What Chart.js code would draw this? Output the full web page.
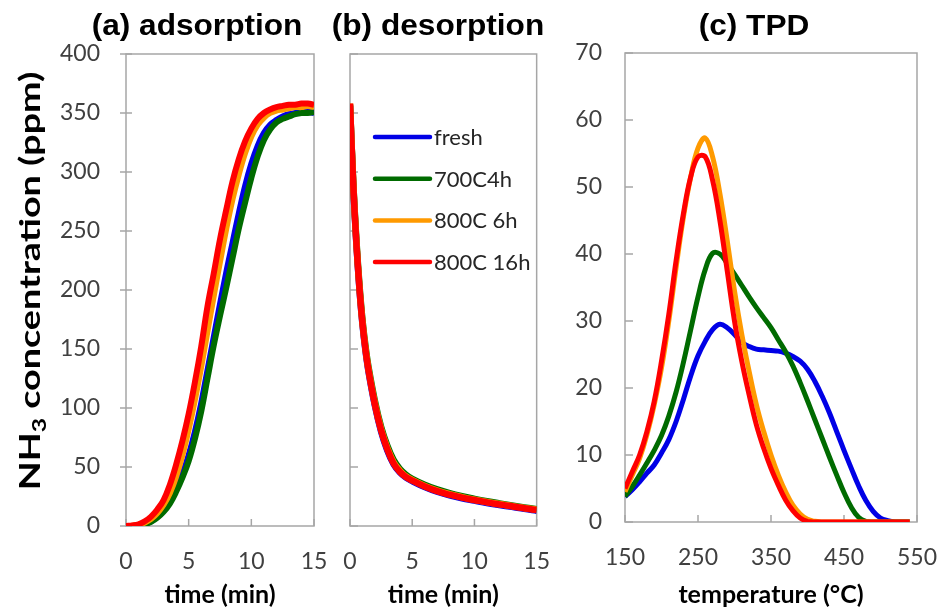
<!DOCTYPE html>
<html>
<head>
<meta charset="utf-8">
<script src="https://cdn.jsdelivr.net/npm/chart.js@4"></script>
<style>
    html, body { margin: 0; padding: 0; background: #fff; }
    #wrap { position: relative; width: 941px; height: 607px; overflow: hidden; }
    #wrap canvas { position: absolute; top: 0; }
</style>
</head>
<body>
<div id="wrap">
    <canvas id="chart-ads" width="330" height="607" style="left:0"></canvas>
    <canvas id="chart-des" width="220" height="607" style="left:330px"></canvas>
    <canvas id="chart-tpd" width="391" height="607" style="left:550px"></canvas>
</div>
<script>
// NH3 adsorption / desorption / TPD

const SERIES = ['fresh', '700C4h', '800C 6h', '800C 16h'];

// (a) adsorption, time in min
const TIME_ADS = [0, 0.5, 1, 1.5, 2, 2.5, 3, 3.5, 4, 4.5, 5, 5.5, 6, 6.5, 7, 7.5,
    8, 8.5, 9, 9.5, 10, 10.5, 11, 11.5, 12, 12.5, 13, 13.5, 14, 14.5, 15];
const ADS_FRESH = [0, 0, 0.5, 2, 4, 8, 13, 21, 31, 44, 60, 80, 104, 132, 160, 188,
    215, 240, 265, 288, 307, 322, 333, 340, 344, 347, 349, 350, 351, 351, 350];
const ADS_700C4H = [0, 0, 0.5, 1.5, 3.5, 7, 12, 19, 29, 41, 55, 74, 97, 125, 153, 178,
    202, 227, 252, 274, 295, 313, 327, 336, 342, 345, 347, 349, 350, 350, 351];
const ADS_800C6H = [0, 0.3, 1, 3, 6, 11, 18, 28, 42, 60, 82, 107, 135, 165, 195, 224,
    252, 277, 298, 316, 330, 340, 346, 350, 352, 353, 354, 355, 355, 356, 355];
const ADS_800C16H = [0, 0.5, 1.5, 4, 8, 14, 22, 35, 52, 72, 95, 122, 152, 186, 214, 243,
    268, 292, 311, 326, 337, 345, 350, 353, 355, 356, 357, 357, 358, 358, 357];

// (b) desorption, time in min
const TIME_DES = [0, 0.25, 0.5, 0.75, 1, 1.25, 1.5, 2, 2.5, 3, 3.5, 4, 4.5, 5,
    6, 7, 8, 9, 10, 11, 12, 13, 14, 15];
const DES_FRESH = [356, 291, 241, 202, 171, 148, 130, 102, 80, 64, 52.5, 45.5, 41, 38,
    33, 29, 26, 23.5, 21.5, 19.5, 17.8, 16.2, 14.5, 13];
const DES_700C4H = [357, 294, 245, 206, 175, 152, 134, 106, 84, 68, 56, 48.5, 43.5, 40,
    35, 31, 27.8, 25.2, 23, 21, 19.2, 17.5, 15.8, 14.2];
const DES_800C6H = [358, 293, 243, 204, 173, 150, 132, 104, 82, 66, 54, 47, 42, 39,
    34, 30, 27, 24.5, 22.3, 20.3, 18.6, 17, 15.3, 13.8];
const DES_800C16H = [358, 292, 242, 203, 172, 149, 131, 103, 81, 65, 53, 46, 41.5, 38.5,
    33.5, 29.5, 26.5, 24, 22, 20, 18.3, 16.7, 15, 13.5];

// (c) TPD, temperature in °C
const TEMP = [150, 160, 170, 180, 190, 200, 210, 220, 230, 240, 250, 260, 270, 280,
    290, 300, 310, 320, 330, 340, 350, 360, 370, 380, 390, 400, 410, 420, 430, 440,
    450, 460, 470, 480, 490, 500, 510, 520, 530, 540];
const TPD_FRESH = [3.8, 4.8, 6, 7.3, 8.5, 10.3, 12.3, 15, 18.3, 21.8, 24.8, 27, 28.7, 29.5,
    29, 28, 26.8, 26.2, 25.8, 25.7, 25.6, 25.5, 25.2, 24.7, 24, 22.8, 21, 18.8, 16.3, 13.5,
    10.7, 8, 5.4, 3.2, 1.6, 0.6, 0.2, 0, 0, 0];
const TPD_700C4H = [3.8, 5.3, 7, 8.8, 10.7, 12.9, 15.8, 19.4, 23.8, 28.7, 33.6, 37.7, 40.1, 40,
    38.6, 37, 35.3, 33.6, 32, 30.5, 29, 27.2, 25.4, 23.3, 20.8, 18.1, 15.3, 12.5, 9.7, 7,
    4.4, 2.2, 0.7, 0.1, 0, 0, 0, 0, 0, 0];
const TPD_800C6H = [4.5, 7, 9.5, 13, 17.5, 23, 30, 38, 45.5, 51.5, 55.8, 57.3, 54.5, 49,
    42, 34.5, 28, 22.5, 17.5, 13.5, 10, 7, 4.5, 2.5, 1.2, 0.4, 0.1, 0, 0, 0,
    0, 0, 0, 0, 0, 0, 0, 0, 0, 0];
const TPD_800C16H = [5, 7.5, 10, 13.5, 18, 24, 31, 39, 46, 51.5, 54.5, 54.5, 51, 45,
    37.5, 30, 24, 19, 14.5, 11, 8, 5.5, 3.3, 1.7, 0.6, 0.1, 0, 0, 0, 0,
    0, 0, 0, 0, 0, 0, 0, 0, 0, 0];

const COLORS = ['#0000e6', '#006b00', '#ff9a00', '#ff0000'];

Chart.defaults.font.family = "Lato, 'Open Sans', sans-serif";
Chart.defaults.color = '#404040';
Chart.defaults.animation = false;

const TITLE_FONT = "bold 29px 'Liberation Sans', Arial, sans-serif";
const AXIS_GREY = '#a6a6a6';

// 灰色边框 + 刻度线（x 轴向内，y 轴按面板设置）
const framePlugin = {
    id: 'frame',
    beforeDatasetsDraw(chart, args, opts) {
        const a = chart.chartArea;
        const { x, y } = chart.scales;
        const ctx = chart.ctx;
        ctx.save();
        ctx.strokeStyle = AXIS_GREY;
        ctx.lineWidth = 1.5;
        ctx.strokeRect(a.left, a.top, a.right - a.left, a.bottom - a.top);
        ctx.beginPath();
        x.ticks.forEach(t => {
            const px = x.getPixelForValue(t.value);
            ctx.moveTo(px, a.bottom);
            ctx.lineTo(px, a.bottom - 7);
        });
        y.ticks.forEach(t => {
            const py = y.getPixelForValue(t.value);
            ctx.moveTo(a.left - opts.yOut, py);
            ctx.lineTo(a.left + opts.yIn, py);
        });
        ctx.stroke();
        ctx.restore();
    },
};

// 面板标题 + NH3 纵轴标题
const textPlugin = {
    id: 'panelText',
    afterDraw(chart, args, opts) {
        const ctx = chart.ctx;
        ctx.save();
        ctx.fillStyle = '#000';
        ctx.font = TITLE_FONT;
        ctx.textAlign = 'center';
        ctx.textBaseline = 'middle';
        ctx.translate(opts.titleX, opts.titleY);
        ctx.scale(1.09, 1);
        ctx.fillText(opts.title, 0, 0);
        ctx.restore();

        if (opts.yTitle) {
            const big = "bold 29px Lato, sans-serif";
            const small = "bold 19px Lato, sans-serif";
            const rest = ' concentration (ppm)';
            ctx.save();
            ctx.fillStyle = '#000';
            ctx.font = big;
            const w1 = ctx.measureText('NH').width;
            const w3 = ctx.measureText(rest).width;
            ctx.font = small;
            const w2 = ctx.measureText('3').width;
            const total = w1 + w2 + w3;
            ctx.translate(opts.yTitleX, opts.yTitleY);
            ctx.rotate(-Math.PI / 2);
            ctx.scale(1.3, 1);
            ctx.textAlign = 'left';
            ctx.textBaseline = 'alphabetic';
            let x = -total / 2;
            ctx.font = big;
            ctx.fillText('NH', x, 10);
            x += w1;
            ctx.font = small;
            ctx.fillText('3', x, 16);
            x += w2;
            ctx.font = big;
            ctx.fillText(rest, x, 10);
            ctx.restore();
        }
    },
};

// 图例画在 (b) 面板里面
const legendPlugin = {
    id: 'insideLegend',
    afterDatasetsDraw(chart, args, opts) {
        if (!opts.show) return;
        const ctx = chart.ctx;
        ctx.save();
        ctx.font = "22px Lato, sans-serif";
        ctx.textBaseline = 'middle';
        ctx.lineCap = 'round';
        chart.data.datasets.forEach((ds, i) => {
            const y = opts.y0 + i * opts.step;
            ctx.strokeStyle = ds.borderColor;
            ctx.lineWidth = 4.5;
            ctx.beginPath();
            ctx.moveTo(opts.x1, y);
            ctx.lineTo(opts.x2, y);
            ctx.stroke();
            ctx.fillStyle = '#262626';
            ctx.fillText(ds.label, opts.x2 + 4, y + 1);
        });
        ctx.restore();
    },
};

function makeSets(xs, lists, width) {
    return lists.map((ys, i) => ({
        label: SERIES[i],
        data: xs.map((x, j) => ({ x: x, y: ys[j] })),
        borderColor: COLORS[i],
        backgroundColor: COLORS[i],
        borderWidth: width,
        pointRadius: 0,
        tension: 0.4,
        order: lists.length - 1 - i,  // 800C 16h 画在最上面
    }));
}

// 刻度线由 framePlugin 画，这里的 tickLength 只用来定标签距离
function axis(min, max, step, opts) {
    return {
        type: 'linear',
        min: min,
        max: max,
        border: { display: false },
        grid: { drawOnChartArea: false, drawTicks: true, tickLength: opts.gap, tickColor: 'rgba(0,0,0,0)' },
        ticks: { stepSize: step, font: { size: 23 }, color: '#404040', padding: 0, display: opts.labels !== false },
        title: opts.title ? {
            display: true, text: opts.title, color: '#000',
            font: { size: 25, weight: 'bold', lineHeight: 1 }, padding: 0,
        } : { display: false },
        afterFit: opts.fit,
    };
}

function makeChart(id, xs, lists, width, cfg) {
    return new Chart(document.getElementById(id), {
        type: 'line',
        data: { datasets: makeSets(xs, lists, width) },
        options: {
            responsive: false,
            layout: { padding: { top: cfg.top, right: cfg.right, left: 0, bottom: 0 } },
            plugins: {
                legend: { display: false },
                tooltip: { enabled: false },
                frame: cfg.ticks,
                panelText: cfg.text,
                insideLegend: cfg.legend || { show: false },
            },
            scales: {
                x: axis(cfg.xMin, cfg.xMax, cfg.xStep, {
                    gap: 22, title: cfg.xTitle, fit: s => { s.height = cfg.xH; },
                }),
                y: axis(cfg.yMin, cfg.yMax, cfg.yStep, {
                    gap: cfg.yGap, labels: cfg.yLabels, fit: s => { s.width = cfg.yW; },
                }),
            },
        },
        plugins: [framePlugin, textPlugin, legendPlugin],
    });
}

makeChart('chart-ads', TIME_ADS, [ADS_FRESH, ADS_700C4H, ADS_800C6H, ADS_800C16H], 6, {
    top: 54, right: 16, xH: 81, yW: 126, yGap: 26,
    xMin: 0, xMax: 15, xStep: 5, xTitle: 'time (min)',
    yMin: 0, yMax: 400, yStep: 50,
    ticks: { yIn: 6, yOut: 6 },
    text: { title: '(a) adsorption', titleX: 197, titleY: 27, yTitle: true, yTitleX: 30, yTitleY: 281 },
});

makeChart('chart-des', TIME_DES, [DES_FRESH, DES_700C4H, DES_800C6H, DES_800C16H], 6.5, {
    top: 54, right: 11, xH: 81, yW: 20, yGap: 10,
    xMin: 0, xMax: 15, xStep: 5, xTitle: 'time (min)',
    yMin: 0, yMax: 400, yStep: 50, yLabels: false,
    ticks: { yIn: 8, yOut: 0 },
    text: { title: '(b) desorption', titleX: 108, titleY: 27 },
    legend: { show: true, x1: 45, x2: 100, y0: 137, step: 41.7 },
});

makeChart('chart-tpd', TEMP, [TPD_FRESH, TPD_700C4H, TPD_800C6H, TPD_800C16H], 5, {
    top: 53, right: 24, xH: 85, yW: 75, yGap: 23,
    xMin: 150, xMax: 550, xStep: 100, xTitle: 'temperature (°C)',
    yMin: 0, yMax: 70, yStep: 10,
    ticks: { yIn: 8, yOut: 0 },
    text: { title: '(c) TPD', titleX: 204, titleY: 27 },
});
</script>
</body>
</html>
